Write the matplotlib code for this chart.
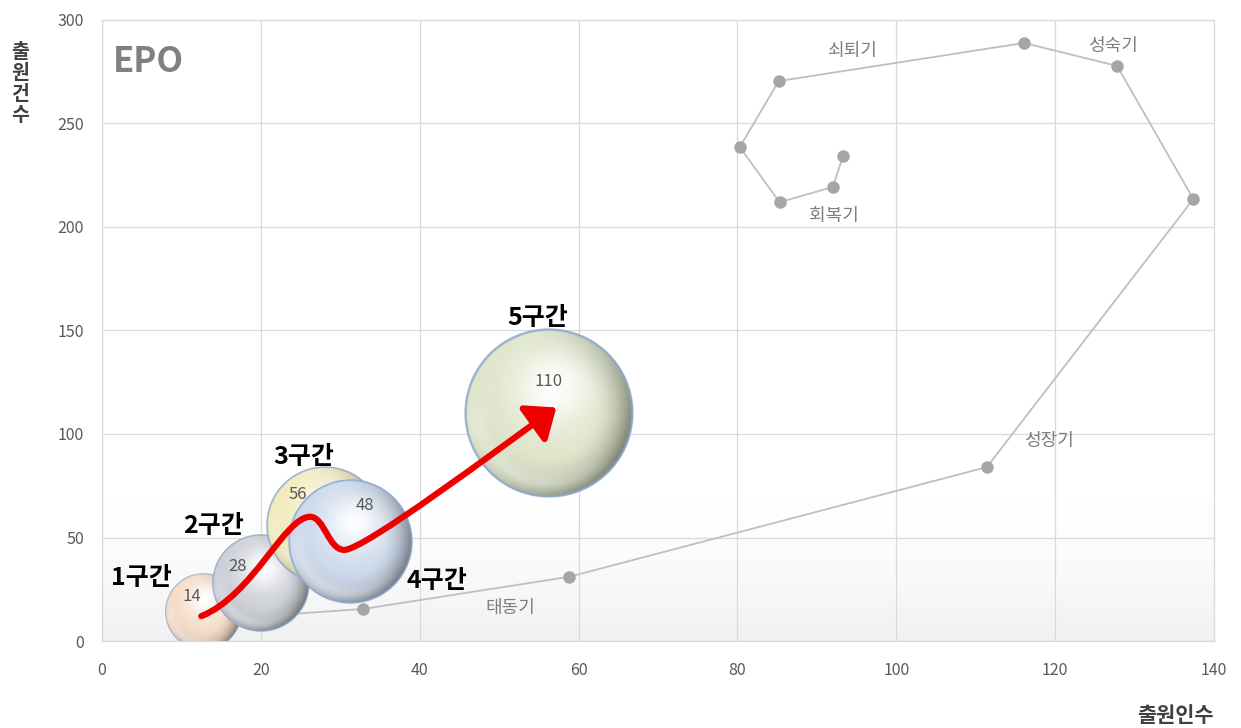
import numpy as np
import matplotlib
matplotlib.use("Agg")
import matplotlib.pyplot as plt
from matplotlib.path import Path
from matplotlib.patches import FancyArrowPatch
from matplotlib.colors import LinearSegmentedColormap

plt.rcParams['font.family'] = ['Noto Sans CJK KR', 'DejaVu Sans']

# ---- data -------------------------------------------------------------
# patent life-cycle trajectory (applicants vs. applications)
cycle_x = [20, 32.9, 58.8, 111.4, 137.4, 127.8, 116.1, 85.2, 80.3, 85.3, 92.0, 93.3]
cycle_y = [12, 15.5, 31, 84, 213.5, 277.8, 288.9, 270.5, 238.6, 212, 219.3, 234.3]

phase_names = ['태동기', '성장기', '성숙기', '쇠퇴기', '회복기']
phase_x = [51.4, 119.2, 127.3, 94.5, 92.2]
phase_y = [15.9, 96.6, 287.4, 285.0, 205.3]

# period bubbles
section_names = ['1구간', '2구간', '3구간', '4구간', '5구간']
bubble_x = [12.7, 20.0, 28.0, 31.2, 56.2]
bubble_y = [14, 28, 56, 48, 110]
bubble_size = [14, 23, 33, 37, 69]

x_ticks = [0, 20, 40, 60, 80, 100, 120, 140]
y_ticks = [0, 50, 100, 150, 200, 250, 300]

# ---- figure -------------------------------------------------------------
W, H, DPI = 1241, 728, 100
fig = plt.figure(figsize=(W / DPI, H / DPI), dpi=DPI)
ax = fig.add_axes([102 / W, 1 - 641 / H, (1214 - 102) / W, (641 - 20) / H])
ax.set_xlim(0, 140)
ax.set_ylim(0, 300)
ax.set_xticks(x_ticks)
ax.set_yticks(y_ticks)
ax.grid(True, color='#d9d9d9', lw=0.9)
ax.set_axisbelow(True)
for s in ax.spines.values():
    s.set_color('#d9d9d9')
    s.set_linewidth(0.9)
ax.tick_params(length=0, labelsize=11.5, labelcolor='#595959')
ax.tick_params(axis='x', pad=15)
ax.tick_params(axis='y', pad=13)

# soft gray fade along the floor of the plot area
fade = LinearSegmentedColormap.from_list('fade', ['#ffffff', '#f1f1f1'])
ax.imshow((np.linspace(1, 0, 128) ** 1.5)[:, None], cmap=fade, extent=[0, 140, 0, 70],
          origin='lower', aspect='auto', zorder=0, interpolation='bilinear')
ax.set_xlim(0, 140)
ax.set_ylim(0, 300)

# life-cycle line
ax.plot(cycle_x, cycle_y, color='#bfbfbf', lw=1.3, marker='o', ms=8,
        mfc='#a6a6a6', mec='#a6a6a6', zorder=2)
for name, px, py in zip(phase_names, phase_x, phase_y):
    ax.text(px, py, name, fontsize=13, color='#7f7f7f', ha='center', va='center', zorder=3)


def sphere(base, edge, n=320):
    yy, xx = np.mgrid[-1:1:n * 1j, -1:1:n * 1j]
    r = np.hypot(xx, yy)
    base = np.array(base)[None, None, :]
    shadow = base * 0.45
    # darkening toward the rim, strongest on the lower right
    side = np.clip(0.35 + 0.45 * xx + 0.3 * yy, 0, 1)
    dark = (np.clip((r - 0.5) / 0.5, 0, 1) ** 1.6 * side)[..., None]
    col = base * (1 - dark) + shadow * dark
    # broad soft highlight, upper centre
    spec = np.exp(-((xx - 0.05) ** 2 + (yy + 0.3) ** 2) / 0.22)
    col = col + (1 - col) * 0.95 * spec[..., None]
    # light bounce along the lower left inside edge
    bounce = np.exp(-((r - 0.82) ** 2) / 0.012) * np.clip(yy - 0.1 - 0.5 * xx, 0, 1)
    col = col + (1 - col) * 0.4 * bounce[..., None]
    e = np.clip((r - 0.96) / 0.025, 0, 1)[..., None]
    col = col * (1 - e) + np.array(edge)[None, None, :] * e
    alpha = np.clip((1 - r) * n / 2, 0, 1)
    return np.dstack([np.clip(col, 0, 1), alpha])


bubble_colors = [(0.96, 0.86, 0.78), (0.80, 0.81, 0.84), (0.95, 0.92, 0.74),
                 (0.80, 0.85, 0.92), (0.87, 0.90, 0.79)]
edge_colors = [(0.55, 0.66, 0.80)] * 5

# pixel scale of the data axes, used to give the spheres a round footprint
fig.canvas.draw()
p0 = ax.transData.transform((0, 0))
p1 = ax.transData.transform((1, 1))
sx, sy = p1 - p0
for i, (bx, by, bs) in enumerate(zip(bubble_x, bubble_y, bubble_size)):
    rad_px = 10.2 * np.sqrt(bs)
    rx, ry = rad_px / sx, rad_px / sy
    ax.imshow(sphere(bubble_colors[i], edge_colors[i]), origin='upper',
              extent=[bx - rx, bx + rx, by - ry, by + ry], aspect='auto',
              zorder=4 + i, interpolation='antialiased')
ax.set_xlim(0, 140)
ax.set_ylim(0, 300)

value_offsets = [(-8, 11), (-17, 12), (-19, 22), (11, 26), (0, 23)]
for bx, by, off in zip(bubble_x, bubble_y, value_offsets):
    ax.annotate(f'{by}', (bx, by), xytext=off, textcoords='offset points',
                fontsize=12, color='#595959', ha='center', va='center', zorder=12)

section_pos = [(4.9, 30.4), (14.0, 55.5), (25.4, 88.9), (42.2, 29.0), (54.8, 156.0)]
for name, (tx, ty) in zip(section_names, section_pos):
    ax.text(tx, ty, name, fontsize=18, fontweight='bold', color='#000000',
            ha='center', va='center', zorder=13)

# red trend arrow through the periods
verts = [(12.5, 12), (19, 22), (23, 60), (26.2, 60),
         (28, 60), (28.5, 44), (30.5, 44),
         (33, 44), (50, 93), (57.2, 112.8)]
codes = [Path.MOVETO] + [Path.CURVE4] * 9
arrow = FancyArrowPatch(path=Path(verts, codes),
                        arrowstyle='-|>,head_length=0.55,head_width=0.45',
                        mutation_scale=30, lw=4.5, color='#ee0000', zorder=11)
ax.add_patch(arrow)

ax.text(0.0095, 0.933, 'EPO', transform=ax.transAxes, fontsize=25, fontweight='bold',
        color='#808080', ha='left', va='center')

fig.text(20 / W, 1 - 84 / H, '출\n원\n건\n수', fontsize=14, fontweight='bold',
         color='#404040', ha='center', va='center', linespacing=1.12)
fig.text(1175 / W, 1 - 715 / H, '출원인수', fontsize=15, fontweight='bold',
         color='#404040', ha='center', va='center')

fig.savefig('out.png', dpi=DPI)
